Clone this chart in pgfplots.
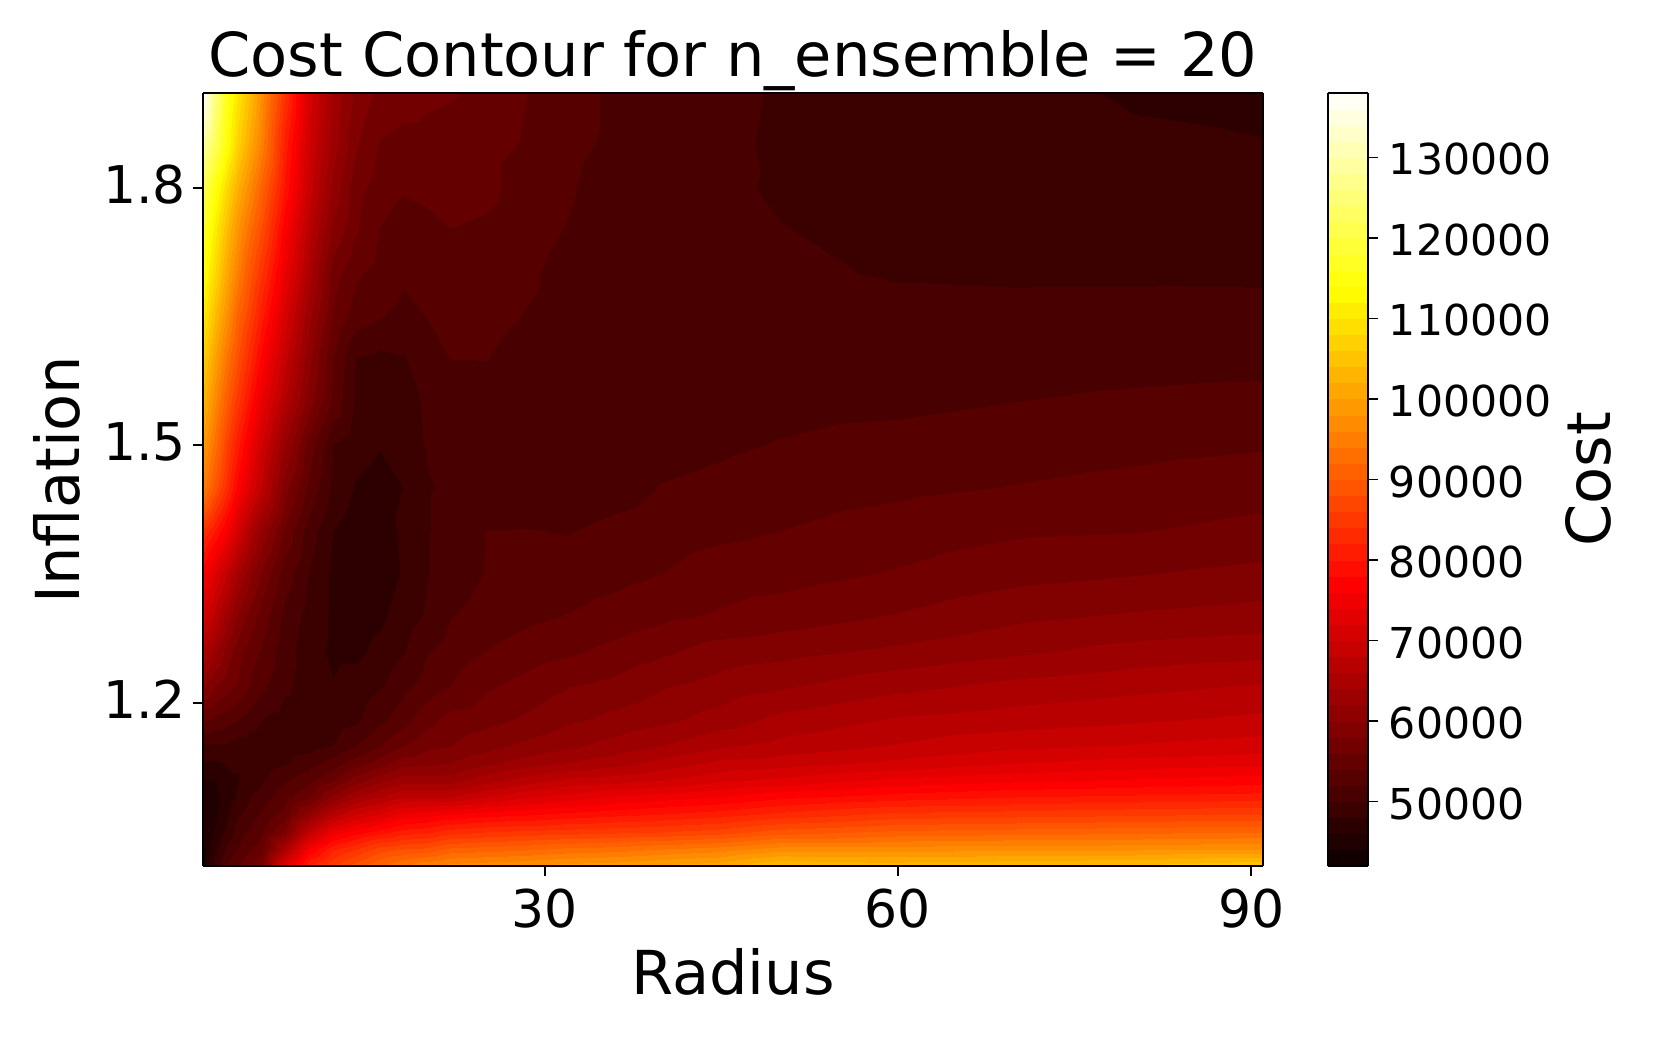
\documentclass[border=0pt]{standalone}
\usepackage{fontspec}
\setmainfont{DejaVu Sans}
\usepackage{pgfplots}
\pgfplotsset{compat=1.18}
\begin{document}
\begin{tikzpicture}
\useasboundingbox (-101.5pt,-86pt) rectangle (729pt,433pt);
\begin{axis}[
    at={(0pt,0pt)}, anchor=south west,
    scale only axis,
    width=530pt, height=386.5pt,
    view={0}{90},
    xmin=1, xmax=91, ymin=1.01, ymax=1.91,
    xtick={30,60,90}, ytick={1.2,1.5,1.8},
    yticklabel style={yshift=1.6pt,/pgf/number format/fixed,/pgf/number format/precision=1,/pgf/number format/fixed zerofill},
    /pgf/number format/assume math mode=true,
    tick label style={font=\fontsize{26}{32}\selectfont},
    xticklabel shift=3pt,
    label style={font=\fontsize{30.3}{36}\selectfont},
    xlabel shift=3pt, ylabel shift=4.6pt,
    title style={font=\fontsize{30.3}{36}\selectfont, yshift=-8.5pt},
    title={Cost Contour for n\textunderscore ensemble = 20},
    xlabel={Radius}, ylabel={Inflation},
    xtick pos=left, ytick pos=left,
    tick align=outside,
    major tick length=5pt,
    every tick/.style={black, line width=1pt},
    axis line style={line width=1pt},
    axis on top,
    point meta min=42000, point meta max=138000,
    colormap={bandhot}{
        rgb255=(18,0,0) rgb255=(32,0,0) rgb255=(45,0,0) rgb255=(59,0,0) rgb255=(73,0,0) rgb255=(87,0,0)
        rgb255=(101,0,0) rgb255=(115,0,0) rgb255=(129,0,0) rgb255=(143,0,0) rgb255=(157,0,0) rgb255=(171,0,0)
        rgb255=(185,0,0) rgb255=(199,0,0) rgb255=(213,0,0) rgb255=(227,0,0) rgb255=(241,0,0) rgb255=(255,0,0)
        rgb255=(255,14,0) rgb255=(255,28,0) rgb255=(255,42,0) rgb255=(255,56,0) rgb255=(255,70,0) rgb255=(255,84,0)
        rgb255=(255,97,0) rgb255=(255,111,0) rgb255=(255,125,0) rgb255=(255,139,0) rgb255=(255,153,0) rgb255=(255,167,0)
        rgb255=(255,181,0) rgb255=(255,195,0) rgb255=(255,209,0) rgb255=(255,223,0) rgb255=(255,237,0) rgb255=(255,251,0)
        rgb255=(255,255,14) rgb255=(255,255,35) rgb255=(255,255,56) rgb255=(255,255,77) rgb255=(255,255,98) rgb255=(255,255,119)
        rgb255=(255,255,140) rgb255=(255,255,161) rgb255=(255,255,182) rgb255=(255,255,202) rgb255=(255,255,223) rgb255=(255,255,244)
    },
    colormap access=piecewise constant,
    colorbar,
    colorbar style={
        at={(1.0613,0)}, anchor=south west,
        scale only axis, width=20pt, height=386.5pt,
        ytick={50000,60000,70000,80000,90000,100000,110000,120000,130000},
        /pgf/number format/assume math mode=true,
        yticklabel style={yshift=-1pt, font=\fontsize{21.3}{25}\selectfont, /pgf/number format/1000 sep={}, /pgf/number format/fixed, /pgf/number format/assume math mode=true},
        yticklabel shift=2pt,
        scaled y ticks=false,
        ylabel={Cost},
        ylabel style={font=\fontsize{30.3}{36}\selectfont},
        ytick pos=right, tick align=outside,
        major tick length=5pt,
        every tick/.style={black, line width=0.8pt},
        axis line style={line width=1pt},
    },
]
\addplot3[surf, shader=interp, mesh/cols=25] coordinates {
(1,1.01,43000)(2,1.01,48800)(3,1.01,52000)(4,1.01,54000)(5,1.01,55700)(6,1.01,58000)(8,1.01,73000)(10,1.01,82000)(12,1.01,86000)(14,1.01,89000)(16,1.01,92000)(18,1.01,94000)(20,1.01,96000)(22,1.01,97000)(25,1.01,97500)(28,1.01,98000)(32,1.01,99000)(36,1.01,99500)(40,1.01,100500)(45,1.01,101500)(50,1.01,104500)(60,1.01,103500)(70,1.01,104000)(80,1.01,104500)(91,1.01,106000)
(1,1.03,43500)(2,1.03,47300)(3,1.03,50500)(4,1.03,52200)(5,1.03,53800)(6,1.03,55000)(8,1.03,65000)(10,1.03,76000)(12,1.03,81500)(14,1.03,84000)(16,1.03,87000)(18,1.03,88000)(20,1.03,88500)(22,1.03,90500)(25,1.03,91000)(28,1.03,91500)(32,1.03,92500)(36,1.03,93000)(40,1.03,94000)(45,1.03,95000)(50,1.03,97000)(60,1.03,97000)(70,1.03,97500)(80,1.03,97500)(91,1.03,98000)
(1,1.05,44000)(2,1.05,46200)(3,1.05,48700)(4,1.05,51000)(5,1.05,52300)(6,1.05,53800)(8,1.05,58000)(10,1.05,68000)(12,1.05,74500)(14,1.05,77000)(16,1.05,79000)(18,1.05,81000)(20,1.05,81500)(22,1.05,83000)(25,1.05,84000)(28,1.05,84500)(32,1.05,85000)(36,1.05,85500)(40,1.05,86000)(45,1.05,87000)(50,1.05,89000)(60,1.05,90500)(70,1.05,91000)(80,1.05,91500)(91,1.05,92000)
(1,1.07,44500)(2,1.07,45500)(3,1.07,47500)(4,1.07,49700)(5,1.07,51000)(6,1.07,52300)(8,1.07,54900)(10,1.07,61000)(12,1.07,66700)(14,1.07,70000)(16,1.07,72000)(18,1.07,74500)(20,1.07,75000)(22,1.07,76000)(25,1.07,77000)(28,1.07,77500)(32,1.07,78500)(36,1.07,79300)(40,1.07,80000)(45,1.07,81000)(50,1.07,82500)(60,1.07,84500)(70,1.07,85000)(80,1.07,85500)(91,1.07,86000)
(1,1.09,45000)(2,1.09,45300)(3,1.09,47000)(4,1.09,48200)(5,1.09,49900)(6,1.09,51000)(8,1.09,53300)(10,1.09,55500)(12,1.09,60500)(14,1.09,64000)(16,1.09,66000)(18,1.09,68000)(20,1.09,68000)(22,1.09,68000)(25,1.09,70000)(28,1.09,71500)(32,1.09,72900)(36,1.09,74200)(40,1.09,75000)(45,1.09,76000)(50,1.09,77500)(60,1.09,79000)(70,1.09,80000)(80,1.09,80500)(91,1.09,81000)
(1,1.11,45700)(2,1.11,46000)(3,1.11,47300)(4,1.11,47900)(5,1.11,48600)(6,1.11,49700)(8,1.11,51700)(10,1.11,53300)(12,1.11,55700)(14,1.11,59000)(16,1.11,61300)(18,1.11,63000)(20,1.11,63000)(22,1.11,63000)(25,1.11,65000)(28,1.11,66700)(32,1.11,68400)(36,1.11,69000)(40,1.11,70000)(45,1.11,71500)(50,1.11,72500)(60,1.11,74500)(70,1.11,75500)(80,1.11,76200)(91,1.11,77000)
(1,1.13,47800)(2,1.13,47700)(3,1.13,48200)(4,1.13,48100)(5,1.13,48500)(6,1.13,48800)(8,1.13,49800)(10,1.13,51000)(12,1.13,52800)(14,1.13,55000)(16,1.13,57000)(18,1.13,59200)(20,1.13,59600)(22,1.13,60000)(25,1.13,61500)(28,1.13,62800)(32,1.13,64100)(36,1.13,65200)(40,1.13,66700)(45,1.13,68500)(50,1.13,69000)(60,1.13,70500)(70,1.13,72000)(80,1.13,72800)(91,1.13,73400)
(1,1.15,49700)(2,1.15,49600)(3,1.15,49600)(4,1.15,49000)(5,1.15,48900)(6,1.15,48900)(8,1.15,49000)(10,1.15,49200)(12,1.15,50100)(14,1.15,52000)(16,1.15,54000)(18,1.15,55900)(20,1.15,57500)(22,1.15,58000)(25,1.15,59200)(28,1.15,60400)(32,1.15,61600)(36,1.15,62800)(40,1.15,64000)(45,1.15,65700)(50,1.15,66700)(60,1.15,68200)(70,1.15,69500)(80,1.15,70200)(91,1.15,71000)
(1,1.18,54300)(2,1.18,53500)(3,1.18,52700)(4,1.18,52000)(5,1.18,50900)(6,1.18,49900)(8,1.18,49000)(10,1.18,48500)(12,1.18,48800)(14,1.18,49600)(16,1.18,51500)(18,1.18,53200)(20,1.18,55300)(22,1.18,56700)(25,1.18,57300)(28,1.18,58200)(32,1.18,59600)(36,1.18,60600)(40,1.18,61500)(45,1.18,62900)(50,1.18,64600)(60,1.18,66300)(70,1.18,67000)(80,1.18,67700)(91,1.18,68500)
(1,1.22,60500)(2,1.22,58000)(3,1.22,56800)(4,1.22,55700)(5,1.22,53800)(6,1.22,52400)(8,1.22,50400)(10,1.22,49000)(12,1.22,48100)(14,1.22,48800)(16,1.22,49800)(18,1.22,51300)(20,1.22,52900)(22,1.22,54000)(25,1.22,55700)(28,1.22,56600)(32,1.22,57900)(36,1.22,58600)(40,1.22,59800)(45,1.22,60800)(50,1.22,61700)(60,1.22,63400)(70,1.22,64600)(80,1.22,65400)(91,1.22,66200)
(1,1.26,66000)(2,1.26,62500)(3,1.26,59000)(4,1.26,56800)(5,1.26,55000)(6,1.26,53700)(8,1.26,50800)(10,1.26,48800)(12,1.26,47600)(14,1.26,47500)(16,1.26,48600)(18,1.26,49800)(20,1.26,51800)(22,1.26,52800)(25,1.26,54000)(28,1.26,54800)(32,1.26,55600)(36,1.26,56600)(40,1.26,57600)(45,1.26,58900)(50,1.26,59300)(60,1.26,60400)(70,1.26,61600)(80,1.26,62700)(91,1.26,63300)
(1,1.30,71000)(2,1.30,67000)(3,1.30,63000)(4,1.30,59500)(5,1.30,57000)(6,1.30,55000)(8,1.30,51300)(10,1.30,49300)(12,1.30,47600)(14,1.30,47000)(16,1.30,47600)(18,1.30,49000)(20,1.30,50300)(22,1.30,51900)(25,1.30,52800)(28,1.30,53500)(32,1.30,54100)(36,1.30,54800)(40,1.30,55600)(45,1.30,56300)(50,1.30,57000)(60,1.30,58200)(70,1.30,59600)(80,1.30,60300)(91,1.30,60900)
(1,1.35,76500)(2,1.35,72000)(3,1.35,68000)(4,1.35,64000)(5,1.35,60500)(6,1.35,57500)(8,1.35,53000)(10,1.35,49900)(12,1.35,47500)(14,1.35,46600)(16,1.35,46800)(18,1.35,48200)(20,1.35,49900)(22,1.35,51000)(25,1.35,52100)(28,1.35,52600)(32,1.35,52900)(36,1.35,53400)(40,1.35,54000)(45,1.35,54900)(50,1.35,55200)(60,1.35,56200)(70,1.35,57300)(80,1.35,57900)(91,1.35,58600)
(1,1.40,84000)(2,1.40,80000)(3,1.40,75500)(4,1.40,70500)(5,1.40,65500)(6,1.40,61500)(8,1.40,55600)(10,1.40,51000)(12,1.40,48000)(14,1.40,46800)(16,1.40,46900)(18,1.40,48400)(20,1.40,49900)(22,1.40,50600)(25,1.40,52000)(28,1.40,52100)(32,1.40,51900)(36,1.40,52600)(40,1.40,53100)(45,1.40,53600)(50,1.40,54000)(60,1.40,54900)(70,1.40,55700)(80,1.40,55900)(91,1.40,56600)
(1,1.45,95000)(2,1.45,89000)(3,1.45,83000)(4,1.45,77000)(5,1.45,72000)(6,1.45,67500)(8,1.45,58800)(10,1.45,53500)(12,1.45,49500)(14,1.45,47800)(16,1.45,47300)(18,1.45,48000)(20,1.45,49900)(22,1.45,50200)(25,1.45,50400)(28,1.45,50300)(32,1.45,50400)(36,1.45,51100)(40,1.45,52100)(45,1.45,52500)(50,1.45,53000)(60,1.45,53600)(70,1.45,54100)(80,1.45,54600)(91,1.45,55200)
(1,1.50,99000)(2,1.50,93000)(3,1.50,86000)(4,1.50,80500)(5,1.50,75000)(6,1.50,70000)(8,1.50,62000)(10,1.50,55000)(12,1.50,50000)(14,1.50,48700)(16,1.50,48100)(18,1.50,49000)(20,1.50,50100)(22,1.50,50400)(25,1.50,50500)(28,1.50,50300)(32,1.50,50300)(36,1.50,50700)(40,1.50,51300)(45,1.50,51700)(50,1.50,52100)(60,1.50,52600)(70,1.50,53000)(80,1.50,53400)(91,1.50,53800)
(1,1.55,103000)(2,1.55,96500)(3,1.55,90000)(4,1.55,84500)(5,1.55,79000)(6,1.55,73500)(8,1.55,66000)(10,1.55,59000)(12,1.55,53500)(14,1.55,49600)(16,1.55,49200)(18,1.55,49500)(20,1.55,50200)(22,1.55,50500)(25,1.55,50500)(28,1.55,50400)(32,1.55,50400)(36,1.55,50600)(40,1.55,51000)(45,1.55,51200)(50,1.55,51400)(60,1.55,51600)(70,1.55,52000)(80,1.55,52300)(91,1.55,52500)
(1,1.60,107000)(2,1.60,100000)(3,1.60,93500)(4,1.60,88000)(5,1.60,82500)(6,1.60,77000)(8,1.60,68500)(10,1.60,60500)(12,1.60,54000)(14,1.60,49900)(16,1.60,49400)(18,1.60,49800)(20,1.60,51200)(22,1.60,52000)(25,1.60,52050)(28,1.60,51200)(32,1.60,50800)(36,1.60,50600)(40,1.60,50700)(45,1.60,50700)(50,1.60,50900)(60,1.60,51000)(70,1.60,51200)(80,1.60,51400)(91,1.60,51500)
(1,1.65,111000)(2,1.65,104000)(3,1.65,97500)(4,1.65,91000)(5,1.65,86000)(6,1.65,80500)(8,1.65,71000)(10,1.65,62500)(12,1.65,55800)(14,1.65,53000)(16,1.65,52100)(18,1.65,51400)(20,1.65,52050)(22,1.65,52700)(25,1.65,52700)(28,1.65,52000)(32,1.65,51300)(36,1.65,51000)(40,1.65,50800)(45,1.65,50600)(50,1.65,50600)(60,1.65,50500)(70,1.65,50500)(80,1.65,50550)(91,1.65,50600)
(1,1.70,115000)(2,1.70,108000)(3,1.70,101000)(4,1.70,95000)(5,1.70,89000)(6,1.70,84000)(8,1.70,74000)(10,1.70,65000)(12,1.70,57000)(14,1.70,54300)(16,1.70,53300)(18,1.70,52300)(20,1.70,52800)(22,1.70,53000)(25,1.70,53000)(28,1.70,52400)(32,1.70,51400)(36,1.70,51200)(40,1.70,50800)(45,1.70,50600)(50,1.70,50300)(60,1.70,49850)(70,1.70,49750)(80,1.70,49750)(91,1.70,49700)
(1,1.75,118000)(2,1.75,111000)(3,1.75,104000)(4,1.75,98000)(5,1.75,92500)(6,1.75,87500)(8,1.75,76500)(10,1.75,67000)(12,1.75,59500)(14,1.75,56200)(16,1.75,53900)(18,1.75,53000)(20,1.75,53300)(22,1.75,53950)(25,1.75,53600)(28,1.75,52800)(32,1.75,51900)(36,1.75,51000)(40,1.75,50700)(45,1.75,50400)(50,1.75,50050)(60,1.75,49600)(70,1.75,49400)(80,1.75,49200)(91,1.75,49000)
(1,1.80,122000)(2,1.80,115000)(3,1.80,108000)(4,1.80,102000)(5,1.80,96500)(6,1.80,91000)(8,1.80,79500)(10,1.80,69000)(12,1.80,61500)(14,1.80,56700)(16,1.80,55000)(18,1.80,54200)(20,1.80,54600)(22,1.80,55000)(25,1.80,54600)(28,1.80,53200)(32,1.80,52200)(36,1.80,51000)(40,1.80,50700)(45,1.80,50300)(50,1.80,49800)(60,1.80,49400)(70,1.80,49100)(80,1.80,48900)(91,1.80,48700)
(1,1.85,129000)(2,1.85,122000)(3,1.85,114000)(4,1.85,107000)(5,1.85,101000)(6,1.85,95000)(8,1.85,81000)(10,1.85,70000)(12,1.85,63000)(14,1.85,58200)(16,1.85,55800)(18,1.85,55300)(20,1.85,55200)(22,1.85,55000)(25,1.85,54600)(28,1.85,53900)(32,1.85,52500)(36,1.85,51600)(40,1.85,51000)(45,1.85,50400)(50,1.85,49700)(60,1.85,49200)(70,1.85,48700)(80,1.85,48300)(91,1.85,48100)
(1,1.91,138000)(2,1.91,126000)(3,1.91,116000)(4,1.91,110000)(5,1.91,104000)(6,1.91,97000)(8,1.91,84000)(10,1.91,71000)(12,1.91,63700)(14,1.91,59500)(16,1.91,57400)(18,1.91,57000)(20,1.91,56500)(22,1.91,56200)(25,1.91,55500)(28,1.91,54200)(32,1.91,52800)(36,1.91,51600)(40,1.91,51200)(45,1.91,50500)(50,1.91,49800)(60,1.91,49200)(70,1.91,48500)(80,1.91,47800)(91,1.91,47400)
};
\end{axis}
\end{tikzpicture}
\end{document}
